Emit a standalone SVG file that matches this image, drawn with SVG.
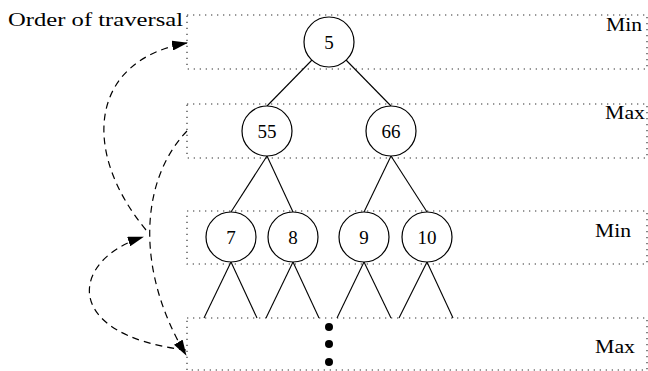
<svg xmlns="http://www.w3.org/2000/svg" width="648" height="371" viewBox="0 0 648 371">
<style>
.band{fill:none;stroke:#333;stroke-width:1.2;stroke-dasharray:1.3 4.7}
.node circle{fill:#fff;stroke:#000;stroke-width:1.2}
.node text{font-size:19px;text-anchor:middle;fill:#000}
.lbl{font-size:18px;fill:#000}
.edge{stroke:#000;stroke-width:1.1;fill:none}
.trav{stroke:#000;stroke-width:1.2;fill:none;stroke-dasharray:7 5}
</style>
<defs>
<marker id="ah" markerWidth="16" markerHeight="10" refX="15" refY="5" orient="auto" markerUnits="userSpaceOnUse">
<path d="M0,0 L16,5 L0,10 Z" fill="#000"/>
</marker>
</defs>
<g id="bands">
<rect class="band" x="187" y="15" width="460" height="54"/>
<rect class="band" x="187" y="104" width="460" height="54"/>
<rect class="band" x="187" y="211" width="460" height="53"/>
<rect class="band" x="187" y="318" width="460" height="52"/>
</g>
<g id="labels" font-family="Liberation Serif, DejaVu Serif, serif">
<text class="lbl" x="8" y="26" textLength="175" lengthAdjust="spacingAndGlyphs">Order of traversal</text>
<text class="lbl" x="606" y="31" textLength="36" lengthAdjust="spacingAndGlyphs">Min</text>
<text class="lbl" x="605" y="119" textLength="40" lengthAdjust="spacingAndGlyphs">Max</text>
<text class="lbl" x="595" y="237" textLength="36" lengthAdjust="spacingAndGlyphs">Min</text>
<text class="lbl" x="595" y="353" textLength="40" lengthAdjust="spacingAndGlyphs">Max</text>
</g>
<g id="connectors">
<line class="edge" x1="312" y1="60" x2="267" y2="106"/>
<line class="edge" x1="346" y1="60" x2="391" y2="106"/>
<line class="edge" x1="267" y1="156" x2="231" y2="212"/>
<line class="edge" x1="267" y1="156" x2="293" y2="212"/>
<line class="edge" x1="391" y1="156" x2="364" y2="212"/>
<line class="edge" x1="391" y1="156" x2="427" y2="212"/>
<line class="edge" x1="231" y1="262" x2="204" y2="318"/>
<line class="edge" x1="231" y1="262" x2="257" y2="318"/>
<line class="edge" x1="293" y1="262" x2="266" y2="318"/>
<line class="edge" x1="293" y1="262" x2="319" y2="318"/>
<line class="edge" x1="364" y1="262" x2="337" y2="318"/>
<line class="edge" x1="364" y1="262" x2="391" y2="318"/>
<line class="edge" x1="427" y1="262" x2="399" y2="318"/>
<line class="edge" x1="427" y1="262" x2="453" y2="318"/>
<path class="trav" d="M146,230 C80,150 90,60 187,43" marker-end="url(#ah)"/>
<path class="trav" d="M187,131 C140,180 135,270 186,355" marker-end="url(#ah)"/>
<path class="trav" d="M186,350 C60,335 70,260 143,237" marker-end="url(#ah)"/>
</g>
<g font-family="Liberation Serif, DejaVu Serif, serif">
<g id="n5" class="node"><circle cx="329" cy="42" r="25"/><text x="329" y="49">5</text></g>
<g id="n55" class="node"><circle cx="267" cy="131" r="25"/><text x="267" y="138">55</text></g>
<g id="n66" class="node"><circle cx="391" cy="131" r="25"/><text x="391" y="138">66</text></g>
<g id="n7" class="node"><circle cx="231" cy="237" r="25"/><text x="231" y="244">7</text></g>
<g id="n8" class="node"><circle cx="293" cy="237" r="25"/><text x="293" y="244">8</text></g>
<g id="n9" class="node"><circle cx="364" cy="237" r="25"/><text x="364" y="244">9</text></g>
<g id="n10" class="node"><circle cx="427" cy="237" r="25"/><text x="427" y="244">10</text></g>
</g>
<g id="ellipsis">
<circle cx="329" cy="327" r="4"/>
<circle cx="329" cy="344" r="4"/>
<circle cx="329" cy="362" r="4"/>
</g>
</svg>
